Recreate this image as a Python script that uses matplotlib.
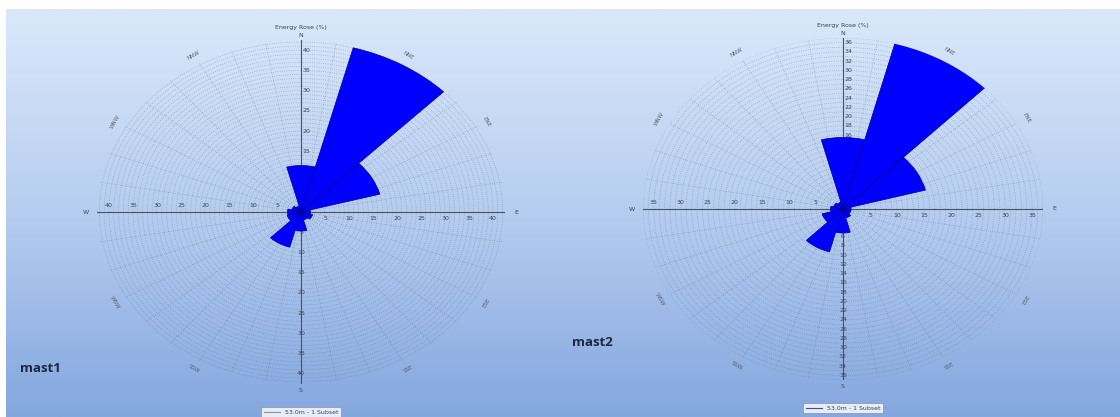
import numpy as np
import matplotlib
matplotlib.use('Agg')
import matplotlib.pyplot as plt
from matplotlib.colors import LinearSegmentedColormap
from matplotlib.lines import Line2D

# sector energy shares (%) per 30 degree direction sector
directions = ['N', 'NNE', 'ENE', 'E', 'ESE', 'SSE', 'S', 'SSW', 'WSW', 'W', 'WNW', 'NNW']
sector_angles = [0, 30, 60, 90, 120, 150, 180, 210, 240, 270, 300, 330]
mast1_energy = [11.5, 42.0, 17.0, 2.0, 2.5, 2.0, 4.7, 9.0, 3.0, 2.8, 2.0, 1.5]
mast2_energy = [15.5, 37.2, 15.8, 1.5, 1.5, 2.0, 5.2, 9.6, 4.0, 2.3, 1.8, 1.5]
mast_names = ['mast1', 'mast2']
legend_label = '53.0m - 1 Subset'
title = 'Energy Rose (%)'

W, H = 1120, 417
fig = plt.figure(figsize=(W / 100, H / 100), dpi=100)
fig.patch.set_facecolor('white')

# blue gradient backdrop
bg = fig.add_axes([6 / W, 0, 1 - 6 / W, 1 - 9 / H], zorder=-10)
grad = np.linspace(0, 1, 256).reshape(-1, 1)
cmap = LinearSegmentedColormap.from_list('bg', ['#dae8fa', '#b6cdf0', '#84a7df'])
bg.imshow(grad, aspect='auto', cmap=cmap, extent=[0, 1, 0, 1])
bg.axis('off')

txt_color = '#3c4556'


def draw_rose(rect, values, rmax, z_step, legend_color):
    ax = fig.add_axes(rect, projection='polar')
    ax.set_aspect('auto')
    ax.set_theta_zero_location('N')
    ax.set_theta_direction(-1)
    ax.set_facecolor('none')
    ax.set_ylim(0, rmax)
    ax.spines['polar'].set_visible(False)

    # dense dotted grid
    ax.set_xticks(np.radians(np.arange(0, 360, 10)))
    ax.set_xticklabels([])
    ax.set_yticks(np.arange(1, rmax + 0.01, 1))
    ax.set_yticklabels([])
    ax.grid(True, color='#55647e', linestyle=(0, (1, 2.2)), linewidth=0.5, alpha=0.55)

    ax.bar(np.radians(sector_angles), values, width=np.radians(30),
           color='#0000ff', edgecolor='#00008b', linewidth=0.5, zorder=3)

    # N-S and E-W axis lines
    for t in (0, 90, 180, 270):
        ax.plot([np.radians(t)] * 2, [0, rmax], color='#4a5262', lw=0.8, zorder=2)

    lab = dict(fontsize=4.5, color=txt_color, ha='center', zorder=2.5,
               textcoords='offset points', annotation_clip=False)
    for r in np.arange(5, rmax, 5):
        ax.annotate(f'{r:g}', xy=(np.radians(90), r), xytext=(0, -3), va='top', **lab)
        ax.annotate(f'{r:g}', xy=(np.radians(270), r), xytext=(0, 3), va='bottom', **lab)
    for r in np.arange(z_step, rmax, z_step):
        ax.annotate(f'{r:g}', xy=(0, r), xytext=(4, 0), va='center', **lab)
        ax.annotate(f'{r:g}', xy=(np.pi, r), xytext=(0, 0), va='center', **lab)

    # compass letters and sector names around the rim
    for name, t, dx, dy in [('N', 0, 0, 3), ('E', 90, 8, 0), ('S', 180, 0, -5), ('W', 270, -8, 0)]:
        ax.annotate(name, xy=(np.radians(t), rmax), xytext=(dx, dy), va='center', **lab)
    for name, t in zip(directions, sector_angles):
        if t % 90 == 0:
            continue
        rot = -t if (t < 90 or t > 270) else 180 - t
        ax.text(np.radians(t), rmax + 2.2, name, fontsize=4, color='#5a6272',
                rotation=rot, ha='center', va='center', rotation_mode='anchor')

    ax.annotate(title, xy=(0, rmax), xytext=(0, 9), va='center', **lab)

    handle = Line2D([], [], color=legend_color, lw=0.8)
    leg = ax.legend([handle], [legend_label], loc='center', bbox_to_anchor=(0.5, -0.082),
                    fontsize=4.5, frameon=True, fancybox=False, handlelength=2.5,
                    borderpad=0.4, handletextpad=0.8)
    leg.get_frame().set_edgecolor('#8090a8')
    leg.get_frame().set_linewidth(0.6)
    for t in leg.get_texts():
        t.set_color(txt_color)
    return ax


draw_rose([97 / W, (H - 384) / H, 408 / W, 344 / H], mast1_energy, 42.5, 5, '#909090')
draw_rose([643 / W, (H - 380) / H, 400 / W, 342 / H], mast2_energy, 37, 2, '#4848a8')

fig.text(20 / W, 1 - 368 / H, mast_names[0], fontsize=9.5, fontweight='bold',
         family='Open Sans', color='#1b2a44', va='center')
fig.text(572 / W, 1 - 343 / H, mast_names[1], fontsize=9.5, fontweight='bold',
         family='Open Sans', color='#1b2a44', va='center')

fig.savefig('out.png', dpi=100)
